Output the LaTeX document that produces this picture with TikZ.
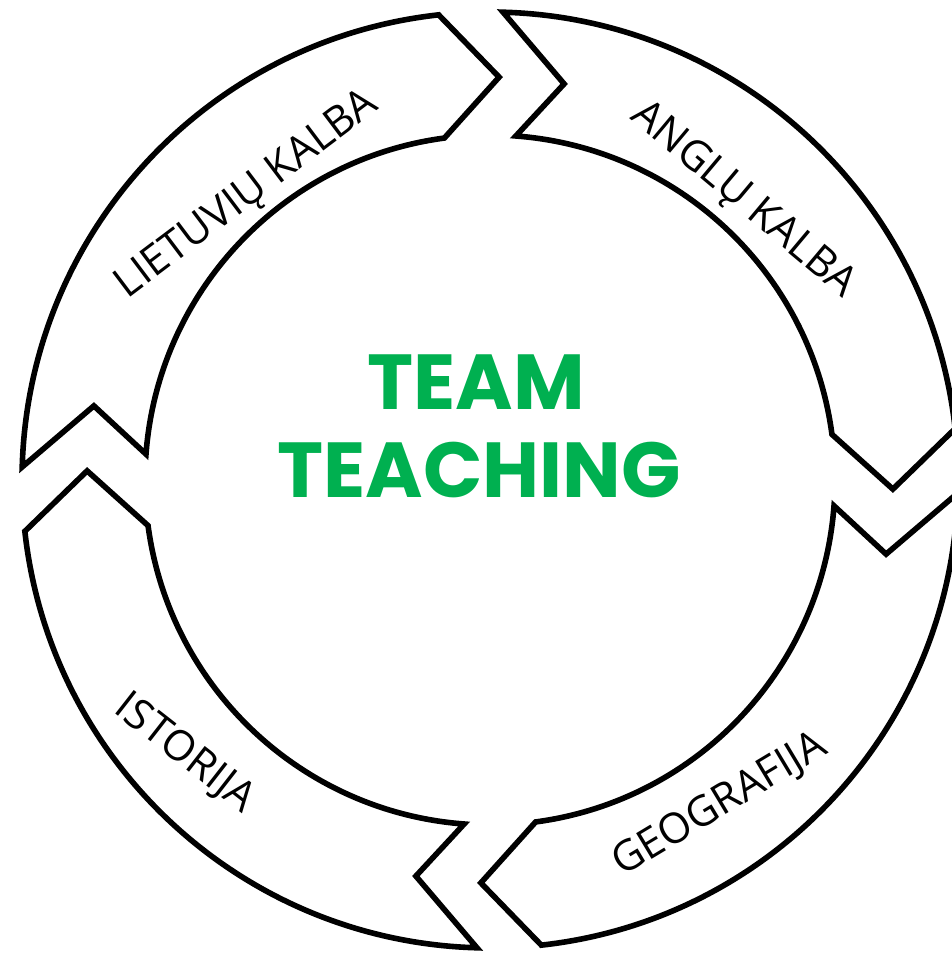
\documentclass[tikz,border=0pt]{standalone}
\usepackage{fontspec}
\setmainfont{Open Sans}
\newfontfamily\titlefont{Poppins}
\definecolor{teamgreen}{HTML}{00B050}
\begin{document}
\begin{tikzpicture}[x=0.5pt,y=0.5pt,
  ring/.style={draw=black,line width=2.8pt,fill=white,line join=miter},
  lbl/.style={inner sep=0pt,font=\fontsize{21}{25}\selectfont,text height=15pt,text depth=0pt},
  ttl/.style={inner sep=0pt,text=teamgreen,font=\titlefont\bfseries\fontsize{39}{45}\selectfont,text height=27pt,text depth=0pt}]
\useasboundingbox (0,0) rectangle (952,959);
\def\Ro{468}\def\Ri{345}\def\Rm{403}
\def\Ao{178.4}\def\Ai{175.7}\def\An{169.4}
\def\Bo{96.3}\def\Bi{97.6}\def\Bt{88.7}
\foreach \k in {0,1,2,3}{
  \begin{scope}[shift={(490,479)},rotate=-90*\k]
    \draw[ring] (\Ao:\Ro) arc[start angle=\Ao,end angle=\Bo,radius=\Ro]
      -- (\Bt:\Rm) -- (\Bi:\Ri) arc[start angle=\Bi,end angle=\Ai,radius=\Ri]
      -- (\An:\Rm) -- cycle;
  \end{scope}
}
\node[lbl,rotate=37] (lt) at (245,767) {LIETUVIŲ KALBA};
\node[lbl,rotate=-40] (an) at (746,762) {ANGLŲ KALBA};
\node[lbl,rotate=31] (ge) at (718,157) {GEOGRAFIJA};
\node[lbl,rotate=-38] (is) at (187,208) {ISTORIJA};
\node[ttl] (team) at (476,576.5) {TEAM};
\node[ttl] (teaching) at (479,488) {TEACHING};
\end{tikzpicture}
\end{document}
